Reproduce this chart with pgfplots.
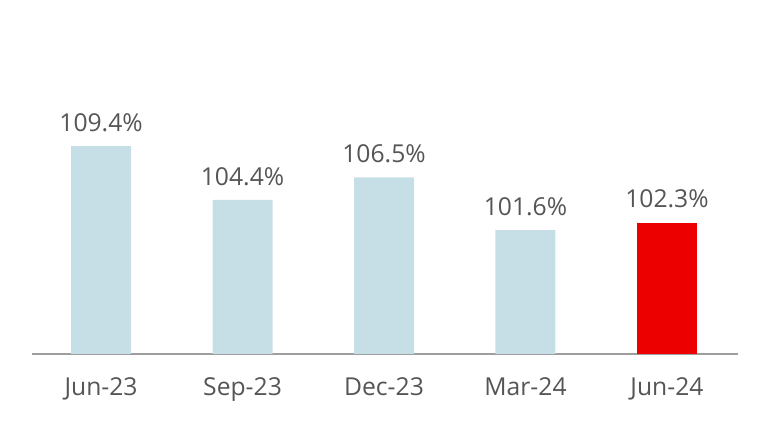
\documentclass[border=0pt]{standalone}
\usepackage{pgfplots}
\pgfplotsset{compat=1.18}
\usepackage{fontspec}
\setmainfont{Open Sans}
\definecolor{barblue}{HTML}{C6DEE6}
\definecolor{barred}{HTML}{EC0000}
\definecolor{txt}{HTML}{555555}
\definecolor{axisgray}{HTML}{9E9E9E}
\begin{document}
\begin{tikzpicture}
\useasboundingbox (0pt,0pt) rectangle (576pt,324pt);
\begin{axis}[
  at={(24pt,58.5pt)}, anchor=south west,
  scale only axis,
  width=529.5pt, height=250.5pt,
  xmin=-0.488, xmax=4.502,
  ymin=90.1, ymax=121.1,
  axis y line=none,
  axis x line*=bottom,
  x axis line style={draw=axisgray, line width=1.5pt, -},
  xtick={0,1,2,3,4},
  xticklabels={Jun-23,Sep-23,Dec-23,Mar-24,Jun-24},
  major tick length=0pt,
  /pgf/number format/assume math mode=true,
  xticklabel style={anchor=base, yshift=-31.5pt, inner sep=0pt, text=txt, font=\fontsize{18.5}{22}\selectfont},
  ybar, bar width=45pt, bar shift=0pt,
  nodes near coords={\pgfmathprintnumber[fixed,fixed zerofill,precision=1,assume math mode=true]{\pgfplotspointmeta}\%},
  nodes near coords style={anchor=base, inner sep=0pt, yshift=11pt, text=txt, font=\fontsize{18.5}{22}\selectfont},
  point meta=rawy,
  clip=false,
]
\addplot[fill=barblue, draw=none] coordinates {(0,109.4) (1,104.4) (2,106.5) (3,101.6)};
\addplot[fill=barred, draw=none] coordinates {(4,102.3)};
\end{axis}
\end{tikzpicture}
\end{document}
